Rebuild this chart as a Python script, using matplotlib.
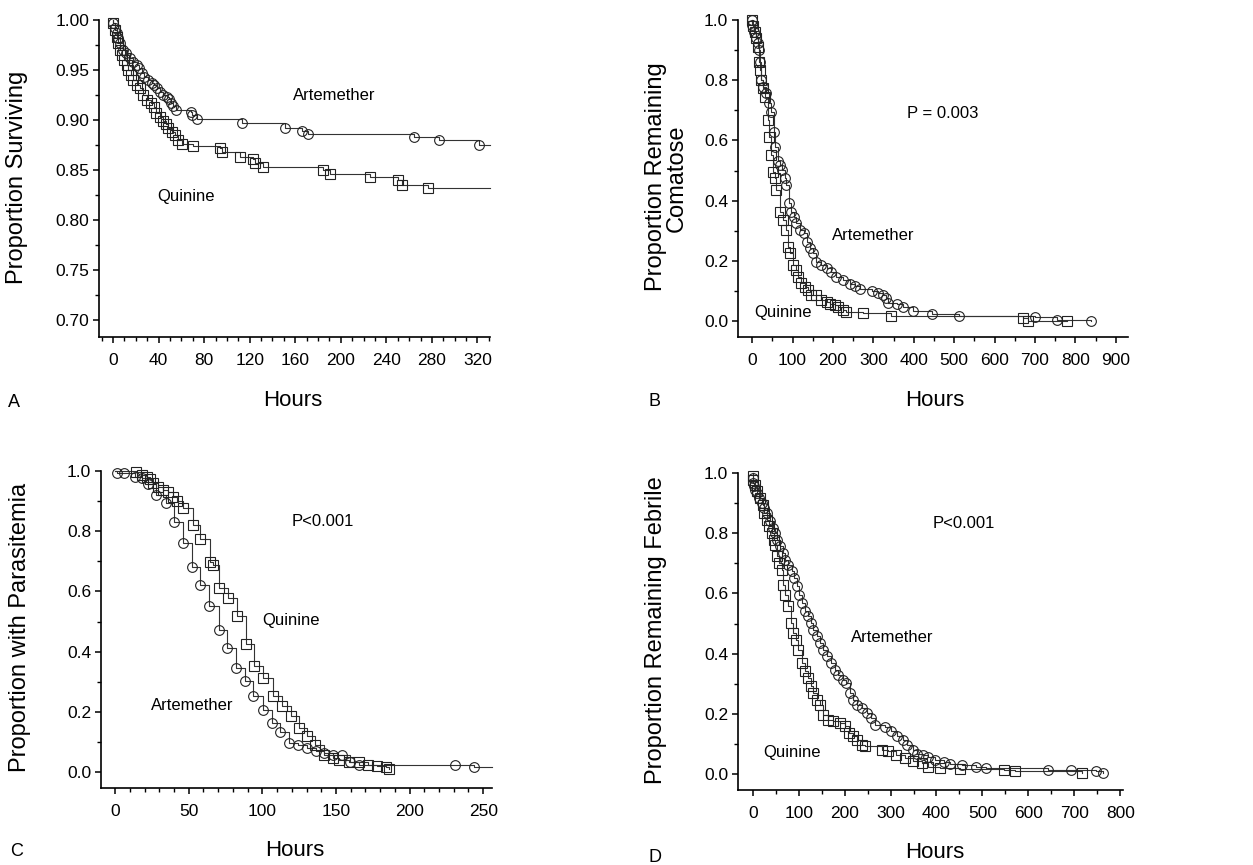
"""Kaplan-Meier style curves: artemether vs quinine (four panels)."""

import matplotlib
matplotlib.use("Agg")
import matplotlib.pyplot as plt
from matplotlib.ticker import MultipleLocator, FormatStrFormatter

plt.rcParams["font.family"] = ["Liberation Sans", "DejaVu Sans"]

W, H = 1253, 865

# ---- Panel A: survival ----
a_art_t = [0, 1.8, 3.2, 4.7, 6.1, 8.5, 11.4, 14.9, 17.9, 20.8, 23.1, 25.2, 27.2, 31.0,
           34.0, 36.0, 38.4, 41.3, 44.2, 47.1, 49.5, 50.6, 53.0, 55.0, 68.2, 69.7, 74.1,
           113.0, 151.1, 166.3, 171.0, 264.7, 286.6, 321.5]
a_art_v = [0.997, 0.992, 0.987, 0.982, 0.977, 0.970, 0.967, 0.962, 0.958, 0.955, 0.952,
           0.947, 0.943, 0.940, 0.937, 0.935, 0.932, 0.928, 0.925, 0.923, 0.921, 0.917,
           0.914, 0.910, 0.908, 0.905, 0.901, 0.897, 0.892, 0.889, 0.886, 0.883, 0.880, 0.875]
a_qui_t = [0.3, 1.8, 3.2, 4.7, 6.1, 7.6, 9.7, 12.0, 13.5, 15.5, 17.9, 20.8, 23.7, 26.6,
           29.6, 33.1, 36.0, 37.8, 41.3, 44.2, 46.6, 48.6, 51.5, 54.5, 57.4, 60.3, 70.0,
           94.0, 95.4, 111.5, 123.3, 124.7, 132.0, 184.7, 190.6, 225.7, 250.6, 254.1, 276.4]
a_qui_v = [0.997, 0.990, 0.983, 0.977, 0.970, 0.965, 0.960, 0.955, 0.950, 0.945, 0.940,
           0.935, 0.932, 0.925, 0.920, 0.917, 0.913, 0.907, 0.903, 0.899, 0.896, 0.892,
           0.888, 0.885, 0.880, 0.876, 0.874, 0.872, 0.868, 0.863, 0.861, 0.857, 0.853,
           0.850, 0.846, 0.843, 0.840, 0.835, 0.832]

# ---- Panel B: coma ----
b_art_t = [0, 0.8, 4.1, 9.1, 14.8, 17.3, 20.6, 23.1, 27.2, 35.5, 42.1, 47.8, 53.6, 57.7,
           64.3, 68.5, 74.2, 80.8, 85.0, 91.6, 97.3, 103.1, 109.7, 118.0, 127.9, 134.5,
           142.7, 151.0, 159.2, 171.6, 184.0, 196.3, 208.7, 225.2, 241.7, 254.1, 266.4,
           297.0, 311.8, 324.2, 332.4, 336.6, 357.2, 373.7, 396.8, 445.4, 512.3, 699.5,
           753.1, 838.1]
b_art_v = [1.0, 0.983, 0.961, 0.939, 0.922, 0.902, 0.862, 0.801, 0.776, 0.756, 0.725,
           0.696, 0.629, 0.579, 0.532, 0.518, 0.502, 0.474, 0.452, 0.391, 0.363, 0.347,
           0.327, 0.302, 0.291, 0.264, 0.241, 0.225, 0.197, 0.186, 0.175, 0.164, 0.147,
           0.136, 0.123, 0.116, 0.108, 0.101, 0.094, 0.086, 0.078, 0.059, 0.056, 0.045,
           0.034, 0.023, 0.018, 0.014, 0.003, 0.0]
b_qui_t = [0, 2.5, 6.6, 10.7, 14.8, 17.3, 19.0, 23.1, 27.2, 33.0, 39.6, 42.1, 47.8, 52.0,
           56.1, 60.2, 68.5, 76.7, 83.3, 89.1, 94.9, 101.5, 109.7, 113.8, 122.1, 130.3,
           138.6, 146.8, 159.2, 171.6, 184.0, 192.2, 204.6, 212.8, 225.2, 233.4, 274.7,
           344.8, 670.6, 683.0, 777.9]
b_qui_v = [1.0, 0.980, 0.961, 0.939, 0.911, 0.862, 0.834, 0.801, 0.773, 0.745, 0.668,
           0.612, 0.552, 0.496, 0.474, 0.435, 0.363, 0.336, 0.302, 0.247, 0.225, 0.186,
           0.169, 0.147, 0.125, 0.114, 0.103, 0.086, 0.086, 0.070, 0.064, 0.057, 0.053,
           0.048, 0.037, 0.031, 0.026, 0.018, 0.011, 0.0, 0.0]

# ---- Panel C: parasitemia ----
c_art_t = [1.6, 6.1, 13.6, 18.1, 22.6, 27.8, 34.4, 40.0, 45.9, 52.3, 57.9, 64.0, 70.4,
           75.8, 82.1, 88.2, 93.9, 100.2, 106.3, 112.0, 118.3, 124.4, 130.1, 136.4, 142.1,
           147.7, 153.8, 159.5, 165.8, 230.8, 243.9]
c_art_v = [0.995, 0.995, 0.981, 0.976, 0.957, 0.920, 0.895, 0.829, 0.760, 0.680, 0.622,
           0.550, 0.472, 0.412, 0.345, 0.301, 0.253, 0.207, 0.163, 0.132, 0.098, 0.091,
           0.080, 0.069, 0.063, 0.058, 0.055, 0.035, 0.024, 0.022, 0.016]
c_qui_t = [14.3, 18.1, 21.5, 23.8, 26.0, 29.4, 32.8, 36.2, 39.6, 41.9, 46.4, 52.7, 57.7,
           64.5, 66.7, 70.6, 76.5, 82.6, 88.9, 94.3, 100.7, 107.0, 113.1, 119.2, 124.9,
           130.1, 135.7, 141.9, 147.7, 152.3, 159.0, 165.8, 171.5, 177.6, 183.9, 186.0]
c_qui_v = [0.998, 0.987, 0.981, 0.972, 0.961, 0.948, 0.937, 0.931, 0.915, 0.902, 0.876,
           0.821, 0.773, 0.699, 0.688, 0.611, 0.577, 0.520, 0.425, 0.353, 0.312, 0.251,
           0.218, 0.185, 0.146, 0.121, 0.091, 0.058, 0.047, 0.040, 0.035, 0.032, 0.024,
           0.021, 0.017, 0.011]

# ---- Panel D: fever ----
d_art_t = [0, 1, 2, 5.1, 8.7, 14.5, 19.6, 24.7, 30.5, 37.8, 43.6, 48.6, 53.7, 59.5, 65.3,
           70.4, 77.7, 84.9, 90.0, 95.8, 101.6, 106.7, 114.0, 121.2, 126.3, 132.1, 139.4,
           146.7, 153.9, 161.2, 169.9, 179.3, 186.6, 196.0, 203.3, 212.0, 219.3, 228.0,
           237.4, 248.3, 257.0, 266.4, 288.2, 300.6, 313.6, 326.7, 336.9, 348.5, 358.6,
           370.3, 382.6, 397.1, 415.3, 429.8, 455.2, 486.4, 508.2, 641.8, 692.6, 747.8,
           762.3]
d_art_v = [0.983, 0.967, 0.956, 0.945, 0.934, 0.917, 0.900, 0.884, 0.867, 0.839, 0.817,
           0.801, 0.779, 0.756, 0.734, 0.712, 0.696, 0.673, 0.651, 0.624, 0.596, 0.568,
           0.540, 0.524, 0.502, 0.480, 0.457, 0.435, 0.413, 0.391, 0.369, 0.347, 0.330,
           0.313, 0.302, 0.269, 0.247, 0.230, 0.219, 0.203, 0.186, 0.164, 0.155, 0.142,
           0.125, 0.114, 0.098, 0.081, 0.068, 0.064, 0.057, 0.048, 0.040, 0.033, 0.029,
           0.023, 0.019, 0.014, 0.013, 0.010, 0.003]
d_qui_t = [0, 1.0, 5.1, 10.2, 16.0, 21.8, 24.7, 30.5, 36.3, 41.4, 46.5, 48.6, 52.3, 58.1,
           63.2, 66.8, 70.4, 76.2, 82.8, 88.6, 93.7, 99.5, 106.7, 114.0, 121.2, 126.3,
           130.7, 139.4, 146.7, 153.9, 164.8, 175.7, 190.2, 201.1, 210.5, 219.3, 228.0,
           237.4, 244.7, 281.0, 295.5, 312.2, 331.8, 349.9, 368.1, 382.6, 408.0, 451.6,
           546.0, 571.4, 716.6]
d_qui_v = [0.989, 0.978, 0.961, 0.939, 0.917, 0.895, 0.867, 0.845, 0.823, 0.801, 0.779,
           0.762, 0.723, 0.701, 0.679, 0.629, 0.596, 0.558, 0.502, 0.468, 0.446, 0.413,
           0.369, 0.341, 0.319, 0.291, 0.269, 0.247, 0.230, 0.197, 0.181, 0.175, 0.169,
           0.158, 0.136, 0.127, 0.114, 0.097, 0.092, 0.081, 0.075, 0.064, 0.053, 0.042,
           0.037, 0.025, 0.020, 0.017, 0.014, 0.009, 0.003]


def fx(x):
    return x / W


def fy(y):
    return 1 - y / H


def make_axes(fig, left, right, top, bottom):
    """Add an axes given pixel edges of the plot frame."""
    return fig.add_axes([fx(left), fy(bottom), fx(right - left), (bottom - top) / H])


def draw_curve(ax, t, v, marker, t_end=None):
    xs = [0] + list(t)
    ys = [1.0] + list(v)
    if t_end is not None:
        xs.append(t_end)
        ys.append(ys[-1])
    ax.step(xs, ys, where="post", color="#333333", lw=0.8, clip_on=False, zorder=2)
    ax.plot(t, v, ls="none", marker=marker, ms=7, mfc="none", mec="#222222",
            mew=0.8, clip_on=False, zorder=3)


def style_axes(ax, xlim, ylim, xmaj, xmin, ymaj, ymin, yfmt):
    ax.set_xlim(*xlim)
    ax.set_ylim(*ylim)
    ax.spines["top"].set_visible(False)
    ax.spines["right"].set_visible(False)
    for s in ("left", "bottom"):
        ax.spines[s].set_linewidth(1.2)
    ax.xaxis.set_major_locator(MultipleLocator(xmaj))
    ax.xaxis.set_minor_locator(MultipleLocator(xmin))
    ax.yaxis.set_major_locator(MultipleLocator(ymaj))
    ax.yaxis.set_minor_locator(MultipleLocator(ymin))
    ax.yaxis.set_major_formatter(FormatStrFormatter(yfmt))
    ax.tick_params(which="major", direction="out", length=4.5, width=1.1,
                   labelsize=12.5)
    ax.tick_params(which="minor", direction="out", length=3, width=1.0)
    ax.tick_params(axis="x", pad=7)
    ax.tick_params(axis="y", pad=2.5)


fig = plt.figure(figsize=(W / 100, H / 100), dpi=100)

# Panel A
axA = make_axes(fig, 99, 490, 20, 337)
draw_curve(axA, a_art_t, a_art_v, "o", 331)
draw_curve(axA, a_qui_t, a_qui_v, "s", 331)
style_axes(axA, (-12.3, 331), (0.683, 1.0), 40, 10, 0.05, 0.025, "%.2f")

# Panel B
axB = make_axes(fig, 738, 1128, 20, 337)
draw_curve(axB, b_art_t, b_art_v, "o")
draw_curve(axB, b_qui_t, b_qui_v, "s")
style_axes(axB, (-35, 930), (-0.053, 1.0), 100, 50, 0.2, 0.1, "%.1f")

# Panel C
axC = make_axes(fig, 101, 492, 471, 788)
draw_curve(axC, c_art_t, c_art_v, "o", 256)
draw_curve(axC, c_qui_t, c_qui_v, "s")
style_axes(axC, (-9.6, 256), (-0.053, 1.0), 50, 10, 0.2, 0.1, "%.1f")

# Panel D
axD = make_axes(fig, 738, 1123, 473, 790)
draw_curve(axD, d_art_t, d_art_v, "o")
draw_curve(axD, d_qui_t, d_qui_v, "s")
style_axes(axD, (-32, 806), (-0.053, 1.0), 100, 50, 0.2, 0.1, "%.1f")

# axis titles, panel letters, annotations (pixel positions)
lab = dict(fontsize=16, ha="center", va="center")
fig.text(fx(293), fy(400), "Hours", **lab)
fig.text(fx(935), fy(400), "Hours", **lab)
fig.text(fx(295), fy(850), "Hours", **lab)
fig.text(fx(935), fy(852), "Hours", **lab)

ylab = dict(fontsize=17, ha="center", va="center", rotation=90)
fig.text(fx(17), fy(177), "Proportion Surviving", **ylab)
fig.text(fx(656), fy(177), "Proportion Remaining", **ylab)
fig.text(fx(677), fy(178), "Comatose", **ylab)
fig.text(fx(20), fy(627), "Proportion with Parasitemia", **ylab)
fig.text(fx(656), fy(630), "Proportion Remaining Febrile", **ylab)

let = dict(fontsize=13, ha="left", va="center")
fig.text(fx(8), fy(403), "A", **let)
fig.text(fx(648), fy(402), "B", **let)
fig.text(fx(10), fy(852), "C", **let)
fig.text(fx(648), fy(857), "D", **let)

ann = dict(fontsize=12, ha="center", va="center")
fig.text(fx(334), fy(95), "Artemether", **ann)
fig.text(fx(186), fy(197), "Quinine", **ann)
fig.text(fx(943), fy(113), "P = 0.003", **ann)
fig.text(fx(873), fy(235), "Artemether", **ann)
fig.text(fx(783), fy(312), "Quinine", **ann)
fig.text(fx(323), fy(521), "P<0.001", **ann)
fig.text(fx(291), fy(620), "Quinine", **ann)
fig.text(fx(192), fy(705), "Artemether", **ann)
fig.text(fx(964), fy(523), "P<0.001", **ann)
fig.text(fx(892), fy(638), "Artemether", **ann)
fig.text(fx(792), fy(752), "Quinine", **ann)

fig.savefig("out.png", dpi=100)
